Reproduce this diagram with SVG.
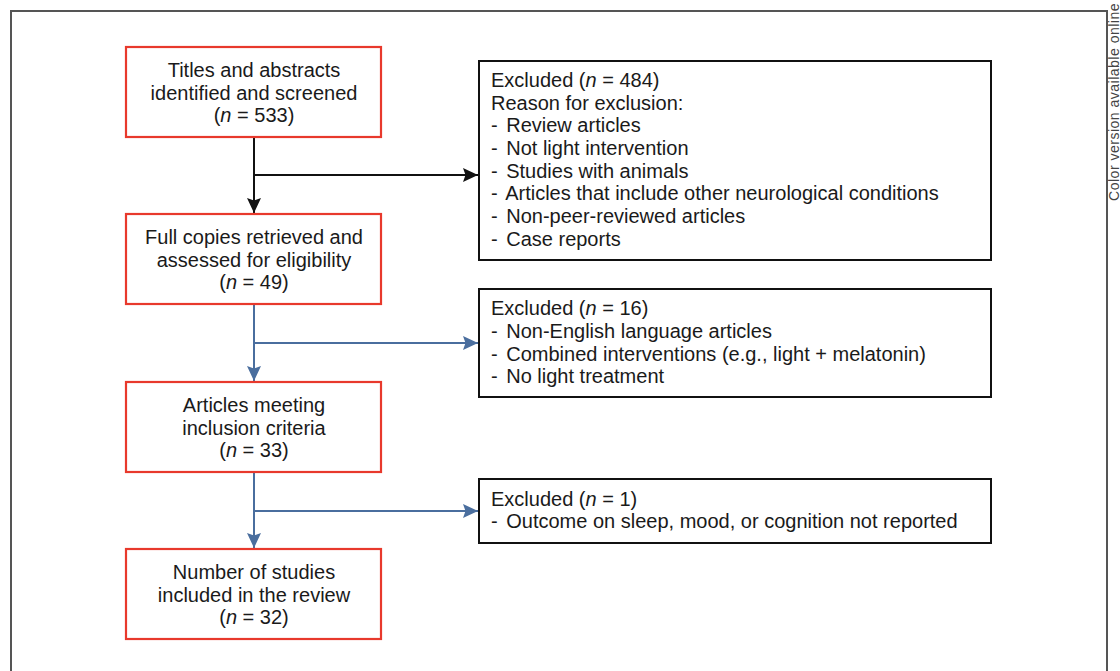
<svg xmlns="http://www.w3.org/2000/svg" width="1120" height="671" viewBox="0 0 1120 671">
<style>
  text { font-family: "Liberation Sans", Arial, sans-serif; font-size: 20px; fill: #1a1a1a; }
  .c { text-anchor: middle; }
  .red { fill: #ffffff; stroke: #e8392c; stroke-width: 2.2; }
  .blk { fill: #ffffff; stroke: #111111; stroke-width: 2; }
  .ln-k { fill: none; stroke: #111111; stroke-width: 2; }
  .ln-b { fill: none; stroke: #4a6e9e; stroke-width: 2; }
  .note { font-size: 14px; letter-spacing: 0.5px; fill: #444444; }
</style>
<defs>
  <marker id="ak" markerUnits="userSpaceOnUse" markerWidth="16" markerHeight="16" viewBox="-15 -8 16 16" refX="0" refY="0" orient="auto">
    <path d="M0,0 L-15,-7 L-12.5,0 L-15,7 Z" fill="#111111"/>
  </marker>
  <marker id="ab" markerUnits="userSpaceOnUse" markerWidth="16" markerHeight="16" viewBox="-15 -8 16 16" refX="0" refY="0" orient="auto">
    <path d="M0,0 L-15,-7 L-12.5,0 L-15,7 Z" fill="#4a6e9e"/>
  </marker>
</defs>
<rect width="1120" height="671" fill="#ffffff"/>
<path d="M11,671 V11 H1107 V671" fill="none" stroke="#555555" stroke-width="2"/>
<text class="note" transform="translate(1119,3) rotate(-90)" text-anchor="end">Color version available online</text>

<g id="connectors">
  <path class="ln-k" d="M254,137 V213" marker-end="url(#ak)"/>
  <path class="ln-k" d="M254,175 H478" marker-end="url(#ak)"/>
  <path class="ln-b" d="M254,304 V381" marker-end="url(#ab)"/>
  <path class="ln-b" d="M254,343 H478" marker-end="url(#ab)"/>
  <path class="ln-b" d="M254,472 V548" marker-end="url(#ab)"/>
  <path class="ln-b" d="M254,511 H478" marker-end="url(#ab)"/>
</g>

<g id="node-screened">
  <rect class="red" x="126" y="47" width="255" height="90"/>
  <text class="c" x="254" y="77">Titles and abstracts</text>
  <text class="c" x="254" y="100">identified and screened</text>
  <text class="c" x="254" y="122">(<tspan font-style="italic">n</tspan> = 533)</text>
</g>

<g id="node-fullcopies">
  <rect class="red" x="126" y="214" width="255" height="90"/>
  <text class="c" x="254" y="244">Full copies retrieved and</text>
  <text class="c" x="254" y="267">assessed for eligibility</text>
  <text class="c" x="254" y="289">(<tspan font-style="italic">n</tspan> = 49)</text>
</g>

<g id="node-inclusion">
  <rect class="red" x="126" y="382" width="255" height="90"/>
  <text class="c" x="254" y="412">Articles meeting</text>
  <text class="c" x="254" y="435">inclusion criteria</text>
  <text class="c" x="254" y="457">(<tspan font-style="italic">n</tspan> = 33)</text>
</g>

<g id="node-included">
  <rect class="red" x="126" y="549" width="255" height="90"/>
  <text class="c" x="254" y="579">Number of studies</text>
  <text class="c" x="254" y="602">included in the review</text>
  <text class="c" x="254" y="624">(<tspan font-style="italic">n</tspan> = 32)</text>
</g>

<g id="node-excluded-484">
  <rect class="blk" x="479" y="61" width="512" height="199"/>
  <text x="491" y="87">Excluded (<tspan font-style="italic">n</tspan> = 484)</text>
  <text x="491" y="110">Reason for exclusion:</text>
  <text x="491" y="132">- <tspan dx="3">Review articles</tspan></text>
  <text x="491" y="155">- <tspan dx="3">Not light intervention</tspan></text>
  <text x="491" y="178">- <tspan dx="3">Studies with animals</tspan></text>
  <text x="491" y="200">- <tspan dx="3">Articles that include other neurological conditions</tspan></text>
  <text x="491" y="223">- <tspan dx="3">Non-peer-reviewed articles</tspan></text>
  <text x="491" y="246">- <tspan dx="3">Case reports</tspan></text>
</g>

<g id="node-excluded-16">
  <rect class="blk" x="479" y="289" width="512" height="108"/>
  <text x="491" y="315">Excluded (<tspan font-style="italic">n</tspan> = 16)</text>
  <text x="491" y="338">- <tspan dx="3">Non-English language articles</tspan></text>
  <text x="491" y="361">- <tspan dx="3">Combined interventions (e.g., light + melatonin)</tspan></text>
  <text x="491" y="383">- <tspan dx="3">No light treatment</tspan></text>
</g>

<g id="node-excluded-1">
  <rect class="blk" x="479" y="479" width="512" height="64"/>
  <text x="491" y="506">Excluded (<tspan font-style="italic">n</tspan> = 1)</text>
  <text x="491" y="528">- <tspan dx="3">Outcome on sleep, mood, or cognition not reported</tspan></text>
</g>
</svg>
